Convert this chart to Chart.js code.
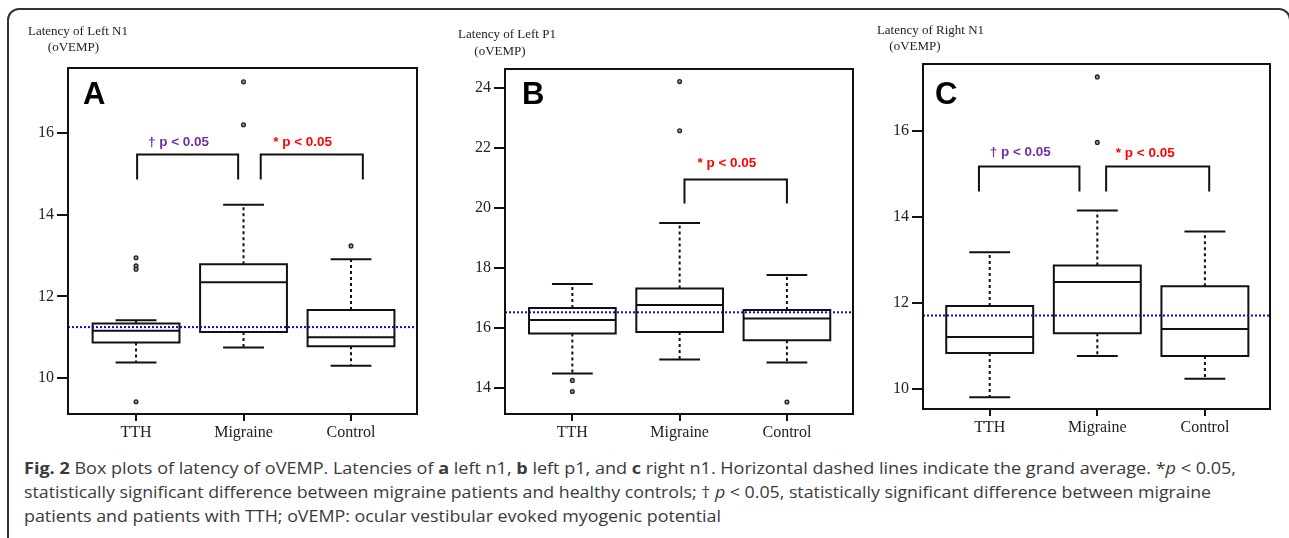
<!DOCTYPE html>
<html>
<head>
<meta charset="utf-8">
<script src="https://cdn.jsdelivr.net/npm/chart.js@4.4.1/dist/chart.umd.min.js"></script>
<style>
  body { margin: 0; background: #fff; }
  #page { position: relative; width: 1289px; height: 538px; overflow: hidden; background: #fff; }
  #frame { position: absolute; left: 7px; top: 8px; width: 1284px; height: 545px; border: 2px solid #333; border-radius: 12px; box-sizing: border-box; }
  canvas { position: absolute; top: 0; }
  .line { position: absolute; left: 24px; white-space: nowrap; font-family: "Open Sans", sans-serif; font-size: 16px; color: #3a3a3a; transform-origin: 0 0; line-height: 20px; }
</style>
</head>
<body>
<div id="page">
  <div id="frame"></div>
  <canvas id="chartA" width="430" height="450" style="left:0px"></canvas>
  <canvas id="chartB" width="430" height="450" style="left:433px"></canvas>
  <canvas id="chartC" width="429" height="450" style="left:860px"></canvas>
  <div class="line" data-right="1236" style="top:458px"><b>Fig. 2</b> Box plots of latency of oVEMP. Latencies of <b>a</b> left n1, <b>b</b> left p1, and <b>c</b> right n1. Horizontal dashed lines indicate the grand average. *<i>p</i> &lt; 0.05,</div>
  <div class="line" data-right="1211" style="top:482px">statistically significant difference between migraine patients and healthy controls; † <i>p</i> &lt; 0.05, statistically significant difference between migraine</div>
  <div class="line" data-right="721" style="top:506px">patients and patients with TTH; oVEMP: ocular vestibular evoked myogenic potential</div>
</div>
<script>
const categories = ["TTH", "Migraine", "Control"];

// A: latency of left N1
const leftN1Low = [10.38, 10.75, 10.30];
const leftN1Q1 = [10.87, 11.13, 10.78];
const leftN1Median = [11.16, 12.35, 11.00];
const leftN1Q3 = [11.34, 12.79, 11.67];
const leftN1High = [11.42, 14.25, 12.91];
const leftN1Outliers = [[12.95, 12.75, 12.67, 9.42], [17.26, 16.21], [13.24]];
const leftN1Mean = 11.25;
const leftN1Ticks = [10, 12, 14, 16];

// B: latency of left P1
const leftP1Low = [14.49, 14.96, 14.86];
const leftP1Q1 = [15.82, 15.87, 15.60];
const leftP1Median = [16.27, 16.77, 16.32];
const leftP1Q3 = [16.67, 17.32, 16.61];
const leftP1High = [17.47, 19.51, 17.77];
const leftP1Outliers = [[14.26, 13.89], [24.22, 22.58], [13.54]];
const leftP1Mean = 16.53;
const leftP1Ticks = [14, 16, 18, 20, 22, 24];

// C: latency of right N1
const rightN1Low = [9.81, 10.77, 10.24];
const rightN1Q1 = [10.84, 11.30, 10.77];
const rightN1Median = [11.21, 12.49, 11.40];
const rightN1Q3 = [11.93, 12.87, 12.39];
const rightN1High = [13.18, 14.15, 13.66];
const rightN1Outliers = [[], [17.25, 15.73], []];
const rightN1Mean = 11.71;
const rightN1Ticks = [10, 12, 14, 16];

// significance brackets: [from, to] on the group axis, top and foot heights
const leftN1Brackets = [
  { span: [0.01, 0.95], top: 15.48, foot: 14.87 },
  { span: [1.16, 2.11], top: 15.48, foot: 14.87 }
];
const leftP1Brackets = [
  { span: [1.045, 2.0], top: 20.96, foot: 20.16 }
];
const rightN1Brackets = [
  { span: [-0.1, 0.834], top: 15.17, foot: 14.59 },
  { span: [1.082, 2.04], top: 15.17, foot: 14.59 }
];

const PURPLE = "#7030a0";
const RED = "#ff0000";
const leftN1Notes = [
  { text: "\u2020 p < 0.05", x: 0.395, y: 15.79, color: PURPLE },
  { text: "* p < 0.05", x: 1.55, y: 15.79, color: RED }
];
const leftP1Notes = [
  { text: "* p < 0.05", x: 1.44, y: 21.49, color: RED }
];
const rightN1Notes = [
  { text: "\u2020 p < 0.05", x: 0.284, y: 15.49, color: PURPLE },
  { text: "* p < 0.05", x: 1.446, y: 15.48, color: RED }
];

const SERIF = '"Liberation Serif", "Times New Roman", serif';
const INK = "#111";
const BOX_HALF = 0.404;
const CAP_HALF = 0.19;

// frame, panel letter, y title and p-value labels
const annotate = {
  id: "annotate",
  afterDatasetsDraw(chart, args, opts) {
    const { ctx, chartArea: a, scales: { x, y } } = chart;
    ctx.save();
    ctx.strokeStyle = INK;
    ctx.lineWidth = 2;
    ctx.strokeRect(a.left, a.top, a.right - a.left, a.bottom - a.top);

    ctx.fillStyle = "#000";
    ctx.textAlign = "left";
    ctx.textBaseline = "alphabetic";
    ctx.font = 'bold 31px "Liberation Sans", Arial, sans-serif';
    ctx.fillText(opts.letter, opts.letterX, 104);

    ctx.fillStyle = "#222";
    ctx.textAlign = "center";
    ctx.textBaseline = "middle";
    ctx.font = "13px " + SERIF;
    opts.title.forEach(t => ctx.fillText(t.text, t.x, t.y));

    ctx.font = 'bold 13.5px "Liberation Sans", Arial, sans-serif';
    opts.notes.forEach(n => {
      ctx.fillStyle = n.color;
      ctx.fillText(n.text, x.getPixelForValue(n.x), y.getPixelForValue(n.y));
    });
    ctx.restore();
  }
};

function makePanel(id, s, lay) {
  const boxPts = [], whiskPts = [], capPts = [], outPts = [], brPts = [];
  categories.forEach((c, i) => {
    const l = i - BOX_HALF, r = i + BOX_HALF;
    boxPts.push({ x: l, y: s.q1[i] }, { x: r, y: s.q1[i] }, { x: r, y: s.q3[i] },
                { x: l, y: s.q3[i] }, { x: l, y: s.q1[i] }, { x: i, y: null },
                { x: l, y: s.med[i] }, { x: r, y: s.med[i] }, { x: i, y: null });
    whiskPts.push({ x: i, y: s.q3[i] }, { x: i, y: s.high[i] }, { x: i, y: null },
                  { x: i, y: s.q1[i] }, { x: i, y: s.low[i] }, { x: i, y: null });
    capPts.push({ x: i - CAP_HALF, y: s.high[i] }, { x: i + CAP_HALF, y: s.high[i] }, { x: i, y: null },
                { x: i - CAP_HALF, y: s.low[i] }, { x: i + CAP_HALF, y: s.low[i] }, { x: i, y: null });
    s.out[i].forEach(v => outPts.push({ x: i, y: v }));
  });
  s.brackets.forEach(b => {
    brPts.push({ x: b.span[0], y: b.foot }, { x: b.span[0], y: b.top },
               { x: b.span[1], y: b.top }, { x: b.span[1], y: b.foot }, { x: 0, y: null });
  });

  const lineSet = (data, extra) => Object.assign({
    data, showLine: true, borderColor: INK, borderWidth: 2, pointRadius: 0,
    spanGaps: false, fill: false, borderCapStyle: "square", borderJoinStyle: "miter"
  }, extra);

  new Chart(document.getElementById(id), {
    type: "scatter",
    data: {
      datasets: [
        lineSet([{ x: lay.xRange[0], y: s.mean }, { x: lay.xRange[1], y: s.mean }],
                { borderColor: "#0a0ad8", borderDash: [2, 2], borderCapStyle: "butt" }),
        lineSet(boxPts),
        lineSet(capPts, { borderCapStyle: "butt" }),
        lineSet(whiskPts, { borderDash: [3, 3], borderCapStyle: "butt" }),
        lineSet(brPts, { borderCapStyle: "butt" }),
        { data: outPts, pointRadius: 1.9, pointBorderWidth: 1.3, pointBorderColor: "#222",
          pointBackgroundColor: "#9a9a9a", showLine: false }
      ]
    },
    options: {
      responsive: false,
      devicePixelRatio: 1,
      animation: false,
      events: [],
      layout: { padding: { top: lay.top, right: lay.right, left: 0, bottom: 0 } },
      plugins: {
        legend: { display: false },
        tooltip: { enabled: false },
        annotate: { letter: lay.letter, letterX: lay.letterX, title: lay.title, notes: s.notes }
      },
      scales: {
        x: {
          type: "linear",
          min: lay.xRange[0], max: lay.xRange[1],
          afterBuildTicks: ax => { ax.ticks = categories.map((c, i) => ({ value: i })); },
          afterFit: ax => { ax.height = lay.xHeight; },
          ticks: { callback: (v, i) => categories[i], color: "#222", padding: 2,
                   font: { family: SERIF, size: 16 }, maxRotation: 0, autoSkip: false },
          grid: { drawOnChartArea: false, drawTicks: true, tickLength: 7, color: INK, lineWidth: 2 },
          border: { display: false }
        },
        y: {
          type: "linear",
          min: lay.yRange[0], max: lay.yRange[1],
          afterBuildTicks: ax => { ax.ticks = s.ticks.map(v => ({ value: v })); },
          afterFit: ax => { ax.width = lay.yWidth; },
          ticks: { color: "#222", padding: 3, font: { family: SERIF, size: 16 } },
          grid: { drawOnChartArea: false, drawTicks: true, tickLength: 11, color: INK, lineWidth: 2 },
          border: { display: false }
        }
      }
    },
    plugins: [annotate]
  });
}

makePanel("chartA",
  { low: leftN1Low, q1: leftN1Q1, med: leftN1Median, q3: leftN1Q3, high: leftN1High,
    out: leftN1Outliers, mean: leftN1Mean, ticks: leftN1Ticks, brackets: leftN1Brackets, notes: leftN1Notes },
  { xRange: [-0.633, 2.614], yRange: [9.12, 17.6], top: 68, right: 13, yWidth: 68, xHeight: 36,
    letter: "A", letterX: 83,
    title: [{ text: "Latency of Left N1", x: 78, y: 32 }, { text: "(oVEMP)", x: 73.5, y: 48 }] });

makePanel("chartB",
  { low: leftP1Low, q1: leftP1Q1, med: leftP1Median, q3: leftP1Q3, high: leftP1High,
    out: leftP1Outliers, mean: leftP1Mean, ticks: leftP1Ticks, brackets: leftP1Brackets, notes: leftP1Notes },
  { xRange: [-0.628, 2.616], yRange: [13.14, 24.64], top: 69, right: 10, yWidth: 72, xHeight: 36,
    letter: "B", letterX: 89,
    title: [{ text: "Latency of Left P1", x: 74, y: 35 }, { text: "(oVEMP)", x: 67, y: 52 }] });

makePanel("chartC",
  { low: rightN1Low, q1: rightN1Q1, med: rightN1Median, q3: rightN1Q3, high: rightN1High,
    out: rightN1Outliers, mean: rightN1Mean, ticks: rightN1Ticks, brackets: rightN1Brackets, notes: rightN1Notes },
  { xRange: [-0.62, 2.605], yRange: [9.54, 17.55], top: 64, right: 19, yWidth: 63, xHeight: 41,
    letter: "C", letterX: 75,
    title: [{ text: "Latency of Right N1", x: 70.5, y: 31 }, { text: "(oVEMP)", x: 55, y: 47 }] });

// stretch each caption line to the width it has in the figure
document.querySelectorAll(".line").forEach(el => {
  const w = el.getBoundingClientRect().width;
  el.style.transform = "scaleX(" + ((+el.dataset.right - 24) / w) + ")";
});
</script>
</body>
</html>
